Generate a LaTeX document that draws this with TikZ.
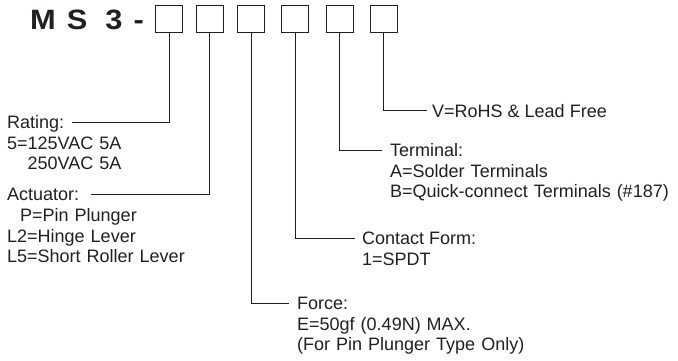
\documentclass[tikz,border=0pt]{standalone}
\usepackage{fontspec}
\setmainfont{Liberation Sans}
\newfontfamily\titlefont{Liberation Sans}[FakeStretch=1.1]
\definecolor{ink}{HTML}{231F20}
\tikzset{
  box/.style={draw=ink, line width=1pt, minimum size=27pt, inner sep=0pt},
  lead/.style={draw=ink, line width=1pt},
  head/.style={anchor=west, inner sep=0pt, text height=13pt, text depth=0pt,
    font=\fontsize{18}{20.5}\selectfont, text=ink},
  body/.style={anchor=base west, inner sep=0pt, text width=320pt, align=left,
    font=\fontsize{18}{20.5}\selectfont, text=ink},
  titletext/.style={anchor=base west, inner sep=0pt,
    font=\titlefont\bfseries\fontsize{28}{28}\selectfont, text=ink},
}
\begin{document}
\begin{tikzpicture}[x=1pt,y=-1pt]
\useasboundingbox (0,0) rectangle (678,361);
\node[titletext] (title) at (30,29.3) {M\hspace*{11pt}S\hspace*{18pt}3\hspace*{11pt}-};
\node[box] (b1) at (169,19.5) {};
\node[box] (b2) at (209.5,19.5) {};
\node[box] (b3) at (251,19.5) {};
\node[box] (b4) at (295,19.5) {};
\node[box] (b5) at (339.5,19.5) {};
\node[box] (b6) at (383.5,19.5) {};

\node[head] (rhead) at (7,122) {Rating:};
\node[body] (rbody) at (7,149) {5=125VAC 5A\\\phantom{5=}250VAC 5A};
\node[head] (ahead) at (7,194) {Actuator:};
\node[body] (abody) at (7,221.5) {\hspace*{13pt}P=Pin Plunger\\L2=Hinge Lever\\L5=Short Roller Lever};
\node[head] (fhead) at (297,303) {Force:};
\node[body] (fbody) at (297,330) {E=50gf (0.49N) MAX.\\(For Pin Plunger Type Only)};
\node[head] (chead) at (362,238) {Contact Form:};
\node[body] (cbody) at (362,265) {1=SPDT};
\node[head] (thead) at (390,150) {Terminal:};
\node[body] (tbody) at (390,177) {A=Solder Terminals\\B=Quick-connect Terminals (\#187)};
\node[head] (vhead) at (432,110.7) {V=RoHS \& Lead Free};

\draw[lead] (b1.south) |- ([xshift=8pt]rhead.east);
\draw[lead] (b2.south) |- ([xshift=12pt]ahead.east);
\draw[lead] (b3.south) |- ([xshift=-8pt]fhead.west);
\draw[lead] (b4.south) |- ([xshift=-7pt]chead.west);
\draw[lead] (b5.south) |- ([xshift=-8pt]thead.west);
\draw[lead] (b6.south) |- ([xshift=-5.5pt]vhead.west);
\end{tikzpicture}
\end{document}
